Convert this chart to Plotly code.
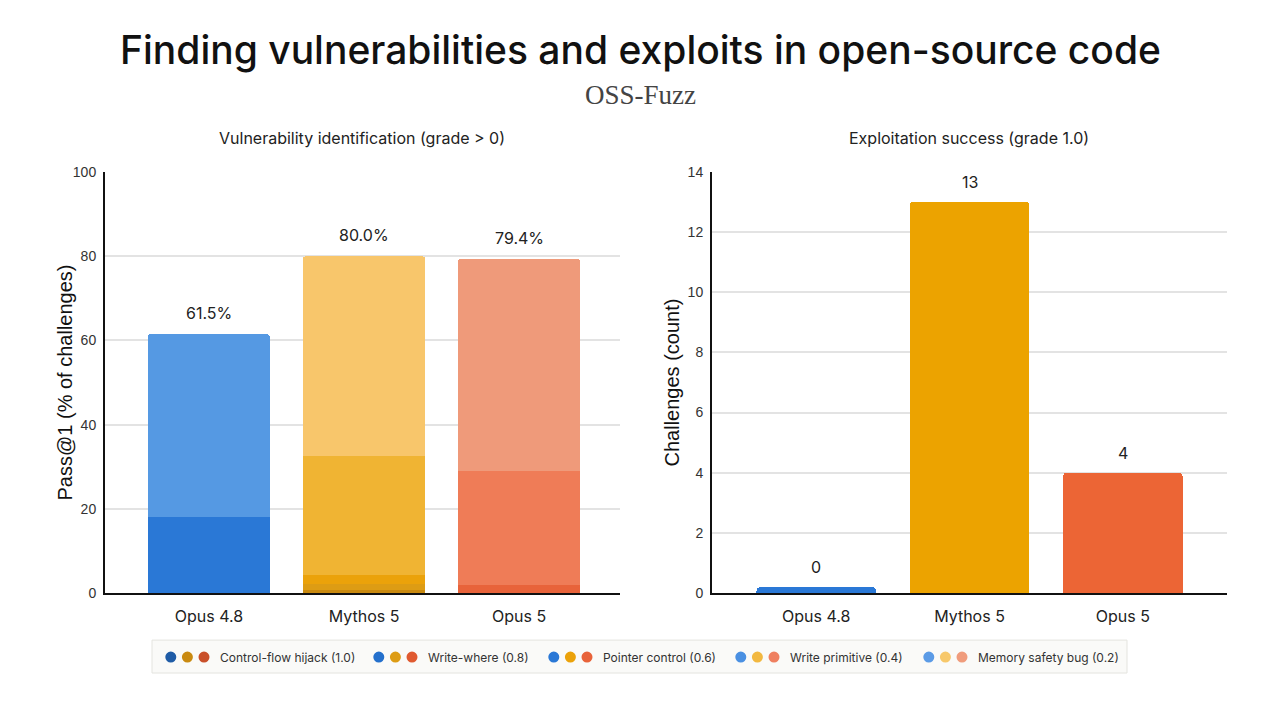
import plotly.graph_objects as go

# data
models = ["Opus 4.8", "Mythos 5", "Opus 5"]
grades = ["Control-flow hijack (1.0)", "Write-where (0.8)", "Pointer control (0.6)",
          "Write primitive (0.4)", "Memory safety bug (0.2)"]

# pass@1 (%) per grade, stacked bottom (1.0) to top (0.2)
pass_cfh = [0.0, 0.8, 0.0]
pass_ww = [0.0, 1.3, 0.0]
pass_pc = [0.0, 2.2, 1.9]
pass_wp = [18.0, 28.2, 27.0]
pass_msb = [43.5, 47.5, 50.5]
pass_totals = [61.5, 80.0, 79.4]

exploit_counts = [0, 13, 4]

# colours per model (blue, orange, red), one row per grade
col_cfh = ["#1f5ca6", "#c98a10", "#c9502a"]
col_ww = ["#2470cc", "#dd9c14", "#e05a30"]
col_pc = ["#2a78d6", "#eba20a", "#e8633a"]
col_wp = ["#2a78d6", "#f0b433", "#ef7c57"]
col_msb = ["#5599e3", "#f8c66b", "#ef9a7a"]
col_legend_wp = ["#4a90e2", "#f2b840", "#ef8060"]
col_legend_msb = ["#5b9be6", "#f7c86a", "#f09c7c"]
col_bar_right = ["#2a78d6", "#eca300", "#ec6535"]

W, H = 1280, 705


# pixel -> paper helpers (page shows the figure offset a little)
def px(x):
    return (x - 8) / W


def py(y):
    return 1 - (y - 16) / 690


fig = go.Figure()

stack = [pass_cfh, pass_ww, pass_pc, pass_wp, pass_msb]
colors = [col_cfh, col_ww, col_pc, col_wp, col_msb]
for name, vals, cols in zip(grades, stack, colors):
    fig.add_trace(go.Bar(x=models, y=vals, name=name, marker=dict(color=cols, line_width=0),
                         width=0.79, xaxis="x", yaxis="y", showlegend=False, hoverinfo="y+name"))

# keep the 0 visible as a stub
shown = [max(v, 0.2) for v in exploit_counts]
fig.add_trace(go.Bar(x=models, y=shown, marker=dict(color=col_bar_right, line_width=0),
                     width=0.78, xaxis="x2", yaxis="y2", showlegend=False,
                     customdata=exploit_counts, hovertemplate="%{customdata}<extra></extra>"))

ann = []
for m, t in zip(models, pass_totals):
    ann.append(dict(x=m, y=t, xref="x", yref="y", text=f"{t:.1f}%", showarrow=False,
                    yanchor="middle", yshift=21, font=dict(family="Inter", size=16, color="#222")))
for m, v, s in zip(models, exploit_counts, shown):
    ann.append(dict(x=m, y=s, xref="x2", yref="y2", text=str(v), showarrow=False,
                    yanchor="middle", yshift=20, font=dict(family="Inter", size=16, color="#222")))

ann += [
    dict(x=px(640), y=py(50), text="Finding vulnerabilities and exploits in open-source code",
         font=dict(family="Inter", size=39, color="#111", weight=500)),
    dict(x=px(640), y=py(95), text="OSS-Fuzz",
         font=dict(family="Liberation Serif", size=27, color="#444")),
    dict(x=px(362), y=py(138), text="Vulnerability identification (grade > 0)",
         font=dict(family="Inter", size=16, color="#222")),
    dict(x=px(969), y=py(138), text="Exploitation success (grade 1.0)",
         font=dict(family="Inter", size=16, color="#222")),
    dict(x=px(65), y=py(383), text="Pass@1 (% of challenges)", textangle=-90,
         font=dict(family="Liberation Sans", size=20, color="#111")),
    dict(x=px(672), y=py(383), text="Challenges (count)", textangle=-90,
         font=dict(family="Liberation Sans", size=20, color="#111")),
]
for a in ann[-6:]:
    a.update(xref="paper", yref="paper", showarrow=False, xanchor="center", yanchor="middle")

# custom legend: three dots per grade
shapes = [dict(type="rect", xref="paper", yref="paper", x0=px(152), x1=px(1127), y0=py(674), y1=py(641),
               line=dict(color="#e4e4df", width=1), fillcolor="#fafaf8", layer="below")]
legend_text_x = [218, 426, 601, 788, 976]
legend_cols = [col_cfh, col_ww, col_pc, col_legend_wp, col_legend_msb]
r = 5.5
for tx, name, cols in zip(legend_text_x, grades, legend_cols):
    for k, c in enumerate(cols):
        cx = tx - 14 - (2 - k) * 16.6
        shapes.append(dict(type="circle", xref="paper", yref="paper", x0=px(cx - r), x1=px(cx + r),
                           y0=py(658 + r), y1=py(658 - r), fillcolor=c, line_width=0))
    ann.append(dict(x=px(tx), y=py(658), xref="paper", yref="paper", text=name, xanchor="left",
                    yanchor="middle", showarrow=False, font=dict(family="Inter", size=12, color="#333")))

axis_common = dict(showline=True, linecolor="#111", linewidth=2, zeroline=False)
xtick = dict(tickfont=dict(size=16, color="#222"), ticks="outside", ticklen=8, tickcolor="rgba(0,0,0,0)")
ytick = dict(showgrid=True, gridcolor="#e3e3e3", gridwidth=1.5, ticks="outside", ticklen=4,
             tickcolor="rgba(0,0,0,0)", tickfont=dict(family="Liberation Sans", size=14, color="#333"))

fig.update_layout(
    width=W, height=H,
    margin=dict(l=0, r=0, t=0, b=0),
    paper_bgcolor="white", plot_bgcolor="white",
    barmode="stack", barcornerradius=4,
    font=dict(family="Inter", color="#222"),
    xaxis=dict(domain=[px(105), px(620)], range=[-0.67, 2.65], anchor="y", **xtick, **axis_common),
    yaxis=dict(domain=[py(594), py(172)], range=[0, 100], dtick=20, anchor="x", **ytick, **axis_common),
    xaxis2=dict(domain=[px(712), px(1227)], range=[-0.68, 2.68], anchor="y2", **xtick, **axis_common),
    yaxis2=dict(domain=[py(594), py(172)], range=[0, 14], dtick=2, anchor="x2", **ytick, **axis_common),
    annotations=ann,
    shapes=shapes,
)

fig.write_html("out.html")
